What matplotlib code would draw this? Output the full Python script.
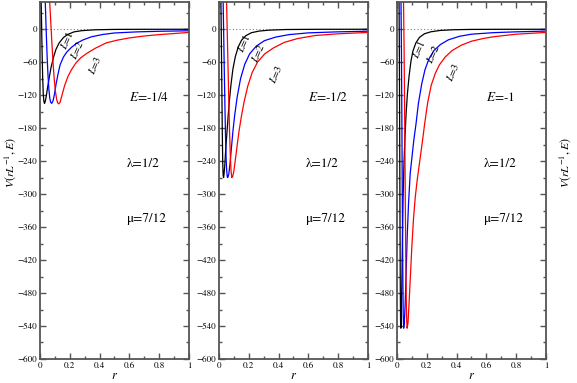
import matplotlib
matplotlib.use("Agg")
import matplotlib.pyplot as plt
from matplotlib.ticker import MultipleLocator

plt.rcParams["font.family"] = "STIXGeneral"
plt.rcParams["mathtext.fontset"] = "stix"

# ============================================================================ #
# data (three panels, L = 1, 2, 3)

energies = ["-1/4", "-1/2", "-1"]

# panel 1 : E = -1/4
r1_L1 = [0.006, 0.010, 0.014, 0.018, 0.022, 0.026, 0.030, 0.034, 0.041, 0.050, 0.061, 0.074, 0.091, 0.107, 0.129, 0.157, 0.184, 0.228, 0.280, 0.370, 0.500, 0.700, 1.000]
V1_L1 = [70, 20, -40, -88, -118, -131, -135, -133, -124, -108, -90, -70, -51, -37, -25, -15.5, -10, -5, -2.8, -1.2, -0.5, -0.3, -0.2]
r1_L2 = [0.032, 0.036, 0.042, 0.048, 0.054, 0.060, 0.066, 0.072, 0.079, 0.087, 0.097, 0.108, 0.121, 0.135, 0.157, 0.179, 0.212, 0.245, 0.290, 0.345, 0.420, 0.500, 0.650, 0.800, 1.000]
V1_L2 = [80, 45, -5, -50, -85, -110, -126, -133, -135, -131, -119, -100, -82, -65, -51, -42, -33, -26, -19.5, -14, -9.8, -7, -5, -3.9, -3]
r1_L3 = [0.060, 0.065, 0.072, 0.080, 0.088, 0.096, 0.104, 0.112, 0.119, 0.126, 0.135, 0.148, 0.165, 0.188, 0.211, 0.240, 0.274, 0.315, 0.370, 0.445, 0.520, 0.600, 0.700, 0.800, 1.000]
V1_L3 = [80, 50, 15, -25, -62, -92, -114, -128, -134, -136, -133, -120, -103, -86, -74, -62, -52, -44, -35, -25, -20, -16, -12.5, -10, -6]

# panel 2 : E = -1/2
r2_L1 = [0.010, 0.013, 0.016, 0.019, 0.022, 0.025, 0.028, 0.031, 0.034, 0.039, 0.045, 0.053, 0.061, 0.070, 0.081, 0.094, 0.110, 0.130, 0.152, 0.180, 0.218, 0.270, 0.340, 0.450, 0.650, 1.000]
V2_L1 = [90, 50, -20, -100, -180, -240, -266, -270, -264, -248, -220, -190, -160, -130, -100, -72, -50, -32, -20, -12, -6.5, -3.5, -1.8, -0.7, -0.3, -0.2]
r2_L2 = [0.025, 0.028, 0.032, 0.036, 0.040, 0.044, 0.048, 0.052, 0.056, 0.059, 0.066, 0.074, 0.083, 0.094, 0.105, 0.122, 0.145, 0.173, 0.206, 0.250, 0.305, 0.380, 0.470, 0.600, 0.800, 1.000]
V2_L2 = [90, 50, -15, -80, -140, -195, -235, -258, -269, -270, -264, -245, -218, -185, -158, -124, -90, -64, -45, -31, -21, -14.5, -10, -6.8, -4.9, -3.8]
r2_L3 = [0.047, 0.051, 0.056, 0.061, 0.066, 0.071, 0.076, 0.081, 0.086, 0.092, 0.099, 0.109, 0.121, 0.135, 0.151, 0.169, 0.193, 0.223, 0.259, 0.307, 0.367, 0.440, 0.530, 0.650, 0.800, 1.000]
V2_L3 = [90, 50, -10, -70, -130, -185, -228, -258, -270, -268, -260, -240, -214, -185, -158, -132, -104, -79, -60, -45, -34, -24, -17, -11.5, -8.5, -6]

# panel 3 : E = -1
r3_L1 = [0.012, 0.014, 0.016, 0.018, 0.020, 0.022, 0.024, 0.026, 0.028, 0.030, 0.034, 0.037, 0.041, 0.047, 0.054, 0.061, 0.070, 0.081, 0.094, 0.107, 0.127, 0.151, 0.184, 0.228, 0.290, 0.380, 0.500, 0.700, 1.000]
V3_L1 = [90, 50, -40, -170, -330, -460, -530, -544, -535, -505, -440, -375, -305, -245, -195, -155, -118, -86, -58, -40, -25, -15, -8.5, -4.8, -2.4, -1.1, -0.5, -0.3, -0.2]
r3_L2 = [0.024, 0.027, 0.030, 0.033, 0.036, 0.039, 0.042, 0.045, 0.049, 0.055, 0.062, 0.069, 0.078, 0.089, 0.101, 0.114, 0.128, 0.144, 0.166, 0.188, 0.215, 0.248, 0.292, 0.345, 0.420, 0.500, 0.650, 0.800, 1.000]
V3_L2 = [90, 50, -40, -170, -320, -440, -520, -544, -535, -500, -440, -375, -315, -262, -232, -200, -172, -135, -100, -74, -54, -39, -28, -19.5, -13, -9.2, -6.4, -4.9, -3.6]
r3_L3 = [0.040, 0.044, 0.048, 0.052, 0.056, 0.060, 0.064, 0.068, 0.074, 0.081, 0.090, 0.100, 0.111, 0.123, 0.137, 0.153, 0.170, 0.186, 0.206, 0.230, 0.258, 0.285, 0.323, 0.370, 0.430, 0.500, 0.580, 0.650, 0.800, 1.000]
V3_L3 = [90, 50, -40, -170, -320, -440, -520, -544, -535, -500, -450, -395, -345, -305, -272, -240, -206, -172, -134, -102, -80, -65, -51, -39, -29.5, -22, -17, -13.8, -9.2, -6]

curves = [
    [(r1_L1, V1_L1), (r1_L2, V1_L2), (r1_L3, V1_L3)],
    [(r2_L1, V2_L1), (r2_L2, V2_L2), (r2_L3, V2_L3)],
    [(r3_L1, V3_L1), (r3_L2, V3_L2), (r3_L3, V3_L3)],
]
colors = ["black", "blue", "red"]

# curve label positions (r, V) per panel
label_pos = [
    [(0.175, -20), (0.250, -38), (0.370, -66)],
    [(0.165, -24), (0.260, -42), (0.380, -82)],
    [(0.145, -35), (0.240, -45), (0.375, -78)],
]

# ============================================================================ #
# figure

fig = plt.figure(figsize=(5.77, 3.83), dpi=100)
lefts = [0.0693, 0.3795, 0.688]
gray = "#555555"

for i in range(3):
    ax = fig.add_axes([lefts[i], 0.0627, 0.258, 0.933])

    ax.axhline(0, color="gray", lw=0.8, ls=(0, (1, 2)))
    for (r, V), c in zip(curves[i], colors):
        ax.plot(r, V, color=c, lw=0.9)

    for k, (x, y) in enumerate(label_pos[i]):
        ax.text(x, y, f"$L$={k+1}", rotation=66, fontsize=7.5,
                ha="center", va="center")

    ax.text(0.60, -124, f"$E$={energies[i]}", fontsize=9.5, ha="left", va="center")
    ax.text(0.58, -245, "λ=1/2", fontsize=9.5, ha="left", va="center")
    ax.text(0.58, -345, "μ=7/12", fontsize=9.5, ha="left", va="center")

    ax.set_xlim(0, 1)
    ax.set_ylim(-600, 50)
    ax.xaxis.set_minor_locator(MultipleLocator(0.1))
    ax.yaxis.set_major_locator(MultipleLocator(60))
    ax.yaxis.set_minor_locator(MultipleLocator(30))
    ax.set_xticks([0, 0.2, 0.4, 0.6, 0.8, 1])
    ax.set_xticklabels(["0", "0.2", "0.4", "0.6", "0.8", "1"])
    ax.tick_params(which="both", direction="in", top=True, right=True,
                   color=gray, labelsize=6.5, pad=2)
    ax.tick_params(which="major", length=4, width=1)
    ax.tick_params(which="minor", length=2, width=1)
    for s in ax.spines.values():
        s.set_color(gray)
        s.set_linewidth(1.3)

    ax.set_xlabel("$r$", fontsize=9, labelpad=0)

    if i == 0:
        ax.set_ylabel("$V(rL^{-1},E)$", fontsize=8.5)
        ax.yaxis.set_label_coords(-0.15, 0.55)
    if i == 2:
        ax.set_ylabel("$V(rL^{-1},E)$", fontsize=8.5)
        ax.yaxis.set_label_coords(1.185, 0.55)

fig.savefig("out.png", dpi=100)
